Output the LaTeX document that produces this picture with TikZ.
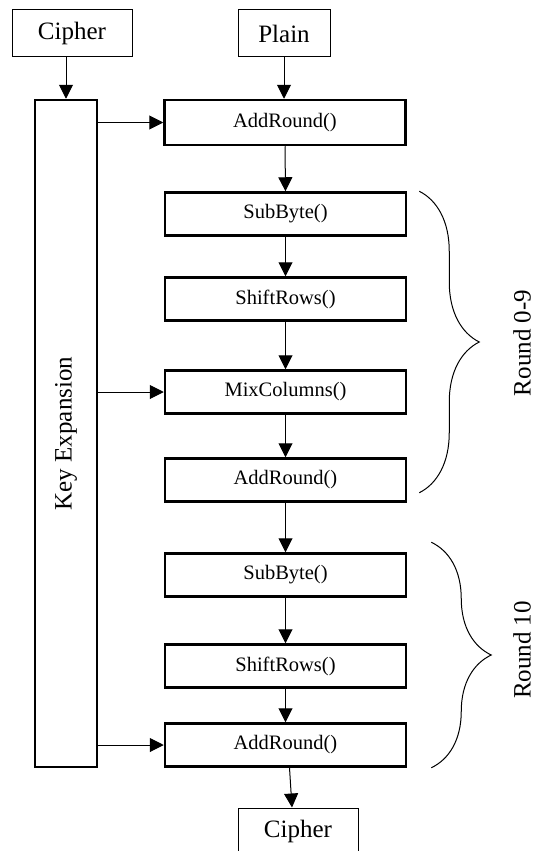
\documentclass[tikz,border=0pt]{standalone}
\usepackage{fontspec}
\setmainfont{Liberation Serif}
\usepackage{tikz}
\usetikzlibrary{positioning,arrows.meta,calc,decorations.pathreplacing}
\tikzset{
  io box/.style={
    draw,
    line width=1pt,
    minimum width=120pt,
    minimum height=47pt,
    inner sep=0pt,
    font=\fontsize{25}{25}\selectfont
  },
  round box/.style={
    draw,
    line width=2.5pt,
    minimum width=241pt,
    minimum height=43pt,
    inner sep=0pt,
    font=\fontsize{20.5}{20.5}\selectfont
  },
  round label/.style={
    rotate=90,
    font=\fontsize{25}{25}\selectfont
  },
  arrow/.style={
    -{Triangle[length=14pt,width=14pt]},
    line width=1pt
  },
  round brace/.style={
    decorate,
    decoration={brace,amplitude=60pt},
    line width=1pt
  }
}

\begin{document}
\begin{tikzpicture}[x=1pt,y=-1pt]
  % AES encryption flow
  \useasboundingbox (0,0) rectangle (538,851);
  \node[io box] (cipherin) at (72,33.5) {Cipher};
  \node[io box, minimum width=92pt] (plain) at (284,33.5) {Plain};
  \node[round box, minimum width=62pt, minimum height=667pt,
        font=\fontsize{25}{25}\selectfont] (keyexp) at (66,433.5)
        {\rotatebox{90}{Key Expansion}};

  \node[round box, minimum height=45pt] (add1) at (285,122.5) {AddRound()};
  \node[round box] (sub1) at (285.5,214) {SubByte()};
  \node[round box] (shift1) at (285.5,299) {ShiftRows()};
  \node[round box] (mix1) at (285.5,392) {MixColumns()};
  \node[round box] (add2) at (285.5,480) {AddRound()};
  \node[round box] (sub2) at (285.5,575) {SubByte()};
  \node[round box] (shift2) at (285.5,666) {ShiftRows()};
  \node[round box] (add3) at (285.5,745) {AddRound()};
  \node[io box] (cipherout) at (298,831.5) {Cipher};

  \draw[arrow] (cipherin.south -| keyexp.north) -- (keyexp.north);
  \draw[arrow] (plain.south) -- (plain.south |- add1.north);
  \draw[arrow] (add1.south) -- (sub1.north);
  \draw[arrow] (sub1.south) -- (shift1.north);
  \draw[arrow] (shift1.south) -- (mix1.north);
  \draw[arrow] (mix1.south) -- (add2.north);
  \draw[arrow] (add2.south) -- (sub2.north);
  \draw[arrow] (sub2.south) -- (shift2.north);
  \draw[arrow] (shift2.south) -- (add3.north);
  \draw[arrow] ([xshift=4pt]add3.south) -- ([xshift=-6pt]cipherout.north);

  \draw[arrow] (keyexp.east |- add1.west) -- (add1.west);
  \draw[arrow] (keyexp.east |- mix1.west) -- (mix1.west);
  \draw[arrow] (keyexp.east |- add3.west) -- (add3.west);

  \draw[round brace] ([xshift=12pt]sub1.north east)
    -- ([xshift=12pt,yshift=10pt]add2.south east);
  \draw[round brace] ([xshift=24pt,yshift=10pt]sub2.north east)
    -- ([xshift=24pt]add3.south east);
  \node[round label] (r09) at (522,343) {Round 0-9};
  \node[round label] (r10) at (522,650) {Round 10};
\end{tikzpicture}
\end{document}
